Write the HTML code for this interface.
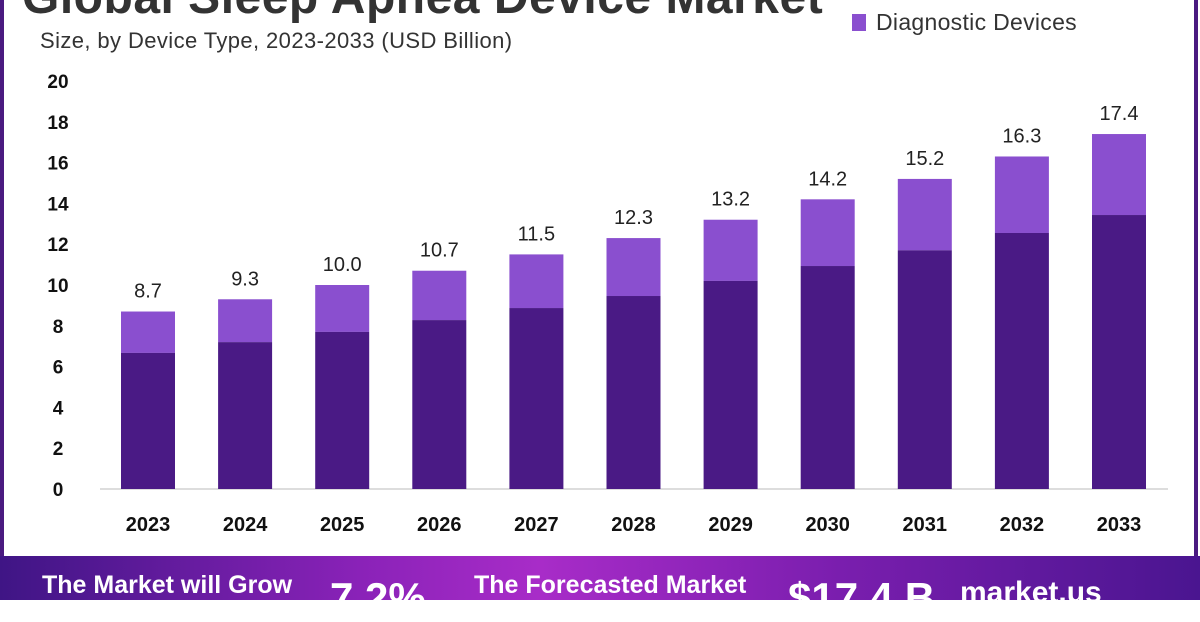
<!DOCTYPE html>
<html><head><meta charset="utf-8"><style>
body{margin:0;width:1200px;height:600px;overflow:hidden;background:#fff;font-family:"Liberation Sans",sans-serif;position:relative}
.a{position:absolute;white-space:nowrap}
</style></head><body>
<div class="a" style="left:0;top:0;width:4px;height:560px;background:#4a1a80"></div>
<div class="a" style="left:1194px;top:0;width:4px;height:560px;background:#4a1a80"></div>
<div class="a" style="left:22px;top:-30px;font-size:48px;font-weight:bold;color:#333;letter-spacing:0.5px">Global Sleep Apnea Device Market</div>
<div class="a" style="left:40px;top:28px;font-size:22px;color:#333;letter-spacing:0.4px">Size, by Device Type, 2023-2033 (USD Billion)</div>
<div class="a" style="left:852px;top:14px;width:14px;height:17px;background:#8a4fcf"></div>
<div class="a" style="left:876px;top:9px;font-size:23px;color:#333;letter-spacing:0.3px">Diagnostic Devices</div>
<svg class="a" style="left:0;top:0" width="1200" height="560">
<line x1="100" y1="489" x2="1168" y2="489" stroke="#ddd" stroke-width="2"/>
<g font-family="Liberation Sans" font-weight="bold" font-size="19" fill="#111" text-anchor="middle" id="y"></g>
<g id="b"></g>
</svg>
<div class="a" style="left:0;top:556px;width:1200px;height:44px;background:linear-gradient(90deg,#3f1585 0%,#8a22b8 30%,#a82cc8 45%,#7a1eae 70%,#4a1590 100%)"></div>
<div class="a" style="left:42px;top:571px;font-size:25px;font-weight:bold;color:#fff">The Market will Grow</div>
<div class="a" style="left:330px;top:574px;font-size:42px;font-weight:bold;color:#fff">7.2%</div>
<div class="a" style="left:474px;top:571px;font-size:25px;font-weight:bold;color:#fff">The Forecasted Market</div>
<div class="a" style="left:788px;top:574px;font-size:42px;font-weight:bold;color:#fff">$17.4 B</div>
<div class="a" style="left:960px;top:576px;font-size:30px;font-weight:bold;color:#fff">market.us</div>
<script>
var tot=[8.7,9.3,10.0,10.7,11.5,12.3,13.2,14.2,15.2,16.3,17.4],
dk=[6.67,7.2,7.7,8.28,8.87,9.46,10.2,10.93,11.7,12.55,13.43],
b=document.getElementById('b'),yg=document.getElementById('y'),s="";
for(var v=0;v<=20;v+=2){s+='<text x="58" y="'+(489-v*20.4+7)+'">'+v+'</text>';}
yg.innerHTML=s;s="";
for(var i=0;i<11;i++){var cx=148+i*97.1,x=cx-27,yt=489-tot[i]*20.4,yd=489-dk[i]*20.4;
s+='<rect x="'+x+'" y="'+yt+'" width="54" height="'+(yd-yt)+'" fill="#8a4fcf"/>';
s+='<rect x="'+x+'" y="'+yd+'" width="54" height="'+(489-yd)+'" fill="#4a1a85"/>';
s+='<text x="'+cx+'" y="'+(yt-14)+'" font-family="Liberation Sans" font-size="20" fill="#222" text-anchor="middle">'+tot[i].toFixed(1)+'</text>';
s+='<text x="'+cx+'" y="531" font-family="Liberation Sans" font-weight="bold" font-size="20" fill="#111" text-anchor="middle">'+(2023+i)+'</text>';}
b.innerHTML=s;
</script>
</body></html>
